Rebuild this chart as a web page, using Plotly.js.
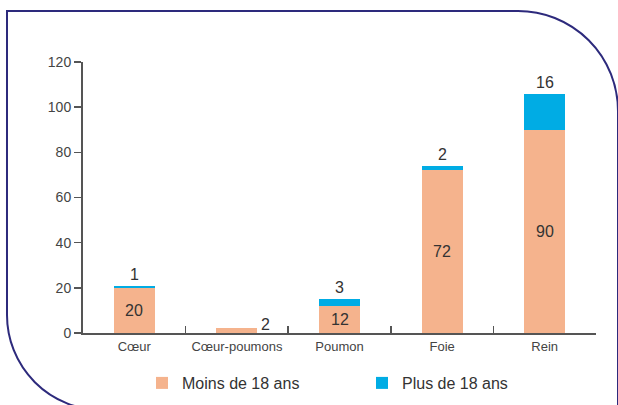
<!DOCTYPE html>
<html>
<head>
<meta charset="utf-8">
<script src="https://cdn.plot.ly/plotly-3.0.1.min.js"></script>
<style>
  html, body { margin: 0; padding: 0; background: #ffffff; }
  #wrap { position: relative; width: 618px; height: 405px; overflow: hidden; }
  #frame { position: absolute; left: 0; top: 0; }
  #chart { position: absolute; left: 0; top: 0; width: 618px; height: 405px; }
</style>
</head>
<body>
<div id="wrap">
  <svg id="frame" width="618" height="405" xmlns="http://www.w3.org/2000/svg">
    <path d="M102,410 A95,95 0 0 1 7,315 V11 H518 A100,100 0 0 1 618,111 V420"
          fill="none" stroke="#2d2a7c" stroke-width="2"/>
  </svg>
  <div id="chart"></div>
</div>
<script>
const categories = ["Cœur", "Cœur-poumons", "Poumon", "Foie", "Rein"];
const moins18 = [20, 2, 12, 72, 90];
const plus18 = [1, 0, 3, 2, 16];
const seriesNames = ["Moins de 18 ans", "Plus de 18 ans"];
const yTicks = [0, 20, 40, 60, 80, 100, 120];

const colMoins = "#f5b38d";
const colPlus = "#00ace4";
const txt = "#333333";
const font = "Liberation Sans, Arial, sans-serif";

const traces = [
  { type: "bar", name: seriesNames[0], x: categories, y: moins18,
    marker: { color: colMoins, line: { width: 0 } }, hoverinfo: "skip" },
  { type: "bar", name: seriesNames[1], x: categories, y: plus18,
    marker: { color: colPlus, line: { width: 0 } }, hoverinfo: "skip" }
];

const annotations = [];
categories.forEach((c, i) => {
  if (moins18[i] >= 5) {
    annotations.push({ x: c, y: moins18[i] / 2, text: String(moins18[i]),
      showarrow: false, yanchor: "middle", font: { family: font, size: 16, color: txt } });
  } else {
    annotations.push({ x: c, y: moins18[i], text: String(moins18[i]),
      showarrow: false, xanchor: "left", yanchor: "middle", xshift: 22, yshift: 4,
      font: { family: font, size: 16, color: txt } });
  }
  if (plus18[i] > 0) {
    annotations.push({ x: c, y: moins18[i] + plus18[i], text: String(plus18[i]),
      showarrow: false, yanchor: "bottom", yshift: 1,
      font: { family: font, size: 16, color: txt } });
  }
});

const layout = {
  width: 618, height: 405,
  margin: { l: 83, r: 22, t: 62, b: 72, pad: 0 },
  paper_bgcolor: "rgba(0,0,0,0)",
  plot_bgcolor: "rgba(0,0,0,0)",
  barmode: "stack",
  bargap: 0.6,
  font: { family: font, color: txt },
  xaxis: {
    type: "category",
    showline: true, linecolor: "#555555", linewidth: 2,
    ticks: "inside", tickson: "boundaries", ticklen: 7, tickwidth: 1.5, tickcolor: "#555555",
    tickfont: { family: font, size: 13, color: "#444444" },
    showgrid: false, zeroline: false, fixedrange: true
  },
  yaxis: {
    range: [0, 120], tickvals: yTicks, ticktext: yTicks.map(String),
    showline: true, linecolor: "#555555", linewidth: 2,
    ticks: "outside", ticklen: 7, tickwidth: 1.5, tickcolor: "#555555",
    tickfont: { family: font, size: 14, color: "#444444" },
    showgrid: false, zeroline: false, fixedrange: true
  },
  showlegend: true,
  legend: {
    orientation: "h",
    xref: "container", yref: "container",
    x: 142 / 618, xanchor: "left",
    y: (405 - 383) / 405, yanchor: "middle",
    entrywidth: 175, entrywidthmode: "pixels",
    font: { family: font, size: 16, color: txt },
    bgcolor: "rgba(0,0,0,0)", borderwidth: 0,
    traceorder: "normal"
  },
  annotations: annotations
};

Plotly.newPlot("chart", traces, layout, { displayModeBar: false, staticPlot: true });
</script>
</body>
</html>
